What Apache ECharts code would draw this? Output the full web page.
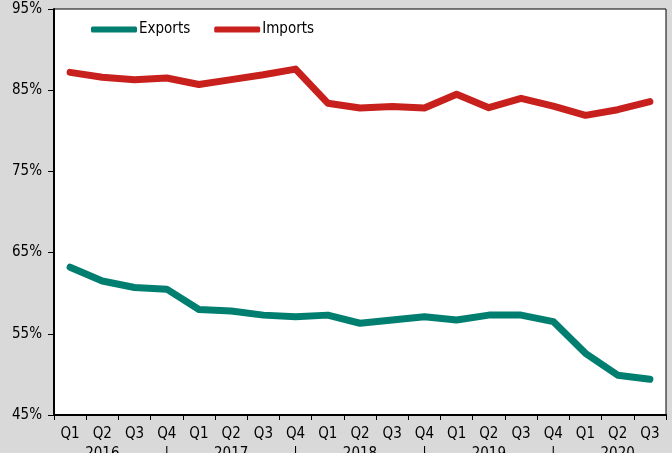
<!DOCTYPE html>
<html><head><meta charset="utf-8">
<script src="https://cdn.jsdelivr.net/npm/echarts@6/dist/echarts.min.js"></script>
<style>html,body{margin:0;padding:0;background:#d9d9d9;}#c{width:672px;height:453px;}</style>
</head><body><div id="c"></div>
<script>
const quarters = ['Q1','Q2','Q3','Q4','Q1','Q2','Q3','Q4','Q1','Q2','Q3','Q4','Q1','Q2','Q3','Q4','Q1','Q2','Q3'];
const years = ['2016','2016','2016','2016','2017','2017','2017','2017','2018','2018','2018','2018','2019','2019','2019','2019','2020','2020','2020'];
const exportsShare = [63.2,61.5,60.7,60.5,58.0,57.8,57.3,57.1,57.3,56.3,56.7,57.1,56.7,57.3,57.3,56.5,52.6,49.9,49.4];
const importsShare = [87.2,86.6,86.3,86.5,85.7,86.3,86.9,87.6,83.4,82.8,83.0,82.8,84.5,82.85,84.0,83.05,81.9,82.6,83.6];
const yTicks = {min:45, max:95, interval:10};

const font = "'Liberation Sans Narrow','Arial Narrow','DejaVu Sans Condensed','Liberation Sans',Arial,sans-serif";
const chart = echarts.init(document.getElementById('c'));
chart.setOption({
  backgroundColor:'#d9d9d9',
  animation:false,
  legend:{
    left:86, top:17, itemWidth:46, itemHeight:6, itemGap:24, icon:'roundRect',
    textStyle:{fontFamily:font, fontSize:15, color:'#000', padding:[0,0,0,-3]},
    data:['Exports','Imports']
  },
  grid:{left:54, right:6, top:9, bottom:38, outerBoundsMode:'none', containLabel:false, show:true, backgroundColor:'#fff', borderColor:'#000', borderWidth:1},
  xAxis:[{
    type:'category', data:quarters, boundaryGap:true, position:'bottom',
    axisLine:{lineStyle:{color:'#000', width:2}},
    axisTick:{show:true, alignWithLabel:false, inside:false, length:5, lineStyle:{color:'#000'}},
    axisLabel:{interval:0, fontFamily:font, fontSize:15, color:'#000', margin:12}
  },{
    type:'category', data:years, boundaryGap:true, position:'bottom', offset:20,
    axisLine:{show:false}, axisTick:{show:false},
    axisLabel:{interval:0, fontFamily:font, fontSize:15, color:'#000', margin:12,
      formatter:function(v,i){ return i%4===1 ? v : (i%4===3 ? '|' : ''); }}
  }],
  yAxis:{
    type:'value', min:yTicks.min, max:yTicks.max, interval:yTicks.interval,
    axisLine:{show:true, lineStyle:{color:'#000', width:2}},
    axisTick:{show:true, length:6, lineStyle:{color:'#000'}},
    splitLine:{show:false},
    axisLabel:{formatter:'{value}%', fontFamily:font, fontSize:15, color:'#000', margin:12}
  },
  series:[
    {name:'Exports', type:'line', data:exportsShare, symbol:'none', xAxisIndex:0,
     lineStyle:{width:7, color:'#007f70', cap:'round', join:'round'}, itemStyle:{color:'#007f70'}},
    {name:'Imports', type:'line', data:importsShare, symbol:'none', xAxisIndex:0,
     lineStyle:{width:7, color:'#c8201d', cap:'round', join:'round'}, itemStyle:{color:'#c8201d'}}
  ]
});
</script></body></html>
